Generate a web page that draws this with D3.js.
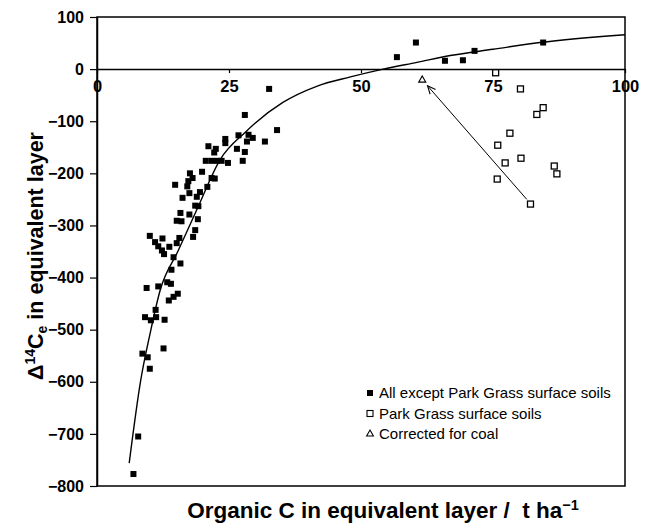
<!DOCTYPE html>
<html>
<head>
<meta charset="utf-8">
<script src="https://cdn.jsdelivr.net/npm/d3@7"></script>
<style>
  body { margin: 0; background: #fff; }
  text { font-family: Arial, "Liberation Sans", sans-serif; }
</style>
</head>
<body>
<div id="root"></div>
<script>
// All except Park Grass surface soils (organic C t/ha, Δ14Ce)
const allExceptC = [32.6, 28.0, 34.1, 26.8, 28.7, 29.5, 28.4, 31.8, 24.3, 24.3, 21.1, 22.5, 22.2, 26.5, 28.0,
  20.6, 21.7, 22.7, 23.6, 24.8, 27.6, 17.6, 18.1, 19.9, 21.7, 22.3, 14.8, 17.3, 17.1, 20.9,
  17.5, 19.5, 16.2, 18.9, 18.6, 19.2, 15.8, 17.5, 15.1, 16.0, 19.1, 18.6, 18.2,
  10.0, 11.0, 12.4, 11.6, 12.3, 12.7, 15.6, 15.1, 13.7, 14.5, 15.8, 14.1,
  9.4, 11.6, 13.3, 14.0, 15.3, 14.5, 13.6, 11.1, 9.1, 10.2, 11.2, 12.8, 8.6, 9.6, 12.6, 10.0, 7.8, 6.9,
  56.8, 60.4, 65.9, 69.3, 71.5, 84.5];
const allExceptD = [-38, -88, -117, -127, -126, -132, -139, -139, -134, -142, -148, -153, -160, -153, -159,
  -176, -176, -176, -176, -180, -176, -200, -209, -197, -209, -210, -222, -215, -225, -226,
  -238, -236, -247, -245, -262, -263, -276, -279, -291, -292, -288, -309, -322,
  -320, -332, -325, -340, -348, -355, -324, -334, -341, -361, -373, -385,
  -420, -417, -409, -412, -431, -437, -444, -462, -476, -482, -476, -481, -546, -553, -536, -575, -705, -777,
  23, 51, 16, 17, 35, 51];

// Park Grass surface soils
const parkGrassC = [75.5, 80.2, 84.5, 83.3, 78.2, 75.9, 80.3, 77.3, 86.6, 87.1, 75.8, 82.1];
const parkGrassD = [-7, -38, -74, -87, -123, -146, -171, -180, -186, -201, -211, -259];

// Corrected for coal
const coalC = [61.6];
const coalD = [-21];

// fitted curve
const fitC = [6.1, 8.3, 10.0, 12.0, 15.3, 18.9, 23.3, 28.2, 35.2, 41.6, 48.0, 54.2, 60.6, 66.9, 75.0, 83.9, 100];
const fitD = [-756, -596, -510, -423, -350, -270, -174, -120, -64, -33, -15, 0, 13, 26, 38, 51, 66];

// arrow from the Park Grass point to the corrected one
const arrowC = [81.4, 62.6];
const arrowD = [-250, -32];

const xTicks = [0, 25, 50, 75, 100];
const yTicks = [100, 0, -100, -200, -300, -400, -500, -600, -700, -800];
const legendItems = ["All except Park Grass surface soils", "Park Grass surface soils", "Corrected for coal"];

const width = 653, height = 524;
const plotLeft = 97, plotRight = 625, plotTop = 17, plotBottom = 486;
const font = "Arial, 'Liberation Sans', sans-serif";

const svg = d3.select("#root").append("svg")
  .attr("width", width)
  .attr("height", height)
  .style("display", "block");

svg.append("rect").attr("width", width).attr("height", height).attr("fill", "#fff");

const x = d3.scaleLinear().domain([0, 100]).range([plotLeft, plotRight]);
const y = d3.scaleLinear().domain([-800, 100]).range([plotBottom, plotTop]);

// frame
svg.append("rect")
  .attr("x", plotLeft).attr("y", plotTop)
  .attr("width", plotRight - plotLeft).attr("height", plotBottom - plotTop)
  .attr("fill", "none").attr("stroke", "#000").attr("stroke-width", 1.5);

// y axis
const yAxis = svg.append("g")
  .attr("transform", `translate(${plotLeft},0)`)
  .call(d3.axisLeft(y).tickValues(yTicks).tickSize(7).tickPadding(6).tickSizeOuter(0));
yAxis.select(".domain").attr("stroke-width", 1.5);
yAxis.selectAll(".tick line").attr("stroke-width", 1.2);
yAxis.selectAll("text").attr("font-size", 16).attr("font-weight", "bold").attr("fill", "#000")
  .style("font-family", font);

// x axis sits on the zero line
const xAxis = svg.append("g")
  .attr("transform", `translate(0,${y(0)})`)
  .call(d3.axisBottom(x).tickValues(xTicks).tickSize(4).tickPadding(7).tickSizeOuter(0));
xAxis.select(".domain").attr("stroke-width", 1.5);
xAxis.selectAll(".tick line").attr("stroke-width", 1.2);
xAxis.selectAll("text").attr("font-size", 16.5).attr("font-weight", "bold").attr("fill", "#000")
  .style("font-family", font);

// fitted curve
const fit = fitC.map((c, i) => ({ c, d: fitD[i] }));
svg.append("path")
  .datum(fit)
  .attr("d", d3.line().x(d => x(d.c)).y(d => y(d.d)).curve(d3.curveMonotoneX))
  .attr("fill", "none")
  .attr("stroke", "#000")
  .attr("stroke-width", 1.4);

// arrow
svg.append("defs").append("marker")
  .attr("id", "head")
  .attr("viewBox", "0 0 10 10")
  .attr("refX", 9).attr("refY", 5)
  .attr("markerWidth", 9).attr("markerHeight", 9)
  .attr("markerUnits", "userSpaceOnUse")
  .attr("orient", "auto")
  .append("path")
  .attr("d", "M0,1 L9,5 L0,9")
  .attr("fill", "none")
  .attr("stroke", "#000")
  .attr("stroke-width", 1.2);

svg.append("line")
  .attr("x1", x(arrowC[0])).attr("y1", y(arrowD[0]))
  .attr("x2", x(arrowC[1])).attr("y2", y(arrowD[1]))
  .attr("stroke", "#000")
  .attr("stroke-width", 1)
  .attr("marker-end", "url(#head)");

// points
const filled = allExceptC.map((c, i) => ({ c, d: allExceptD[i] }));
svg.append("g").selectAll("rect")
  .data(filled)
  .enter()
  .append("rect")
  .attr("x", d => x(d.c) - 3)
  .attr("y", d => y(d.d) - 3)
  .attr("width", 6).attr("height", 6)
  .attr("fill", "#000");

const open = parkGrassC.map((c, i) => ({ c, d: parkGrassD[i] }));
svg.append("g").selectAll("rect")
  .data(open)
  .enter()
  .append("rect")
  .attr("x", d => x(d.c) - 3)
  .attr("y", d => y(d.d) - 3)
  .attr("width", 6).attr("height", 6)
  .attr("fill", "#fff")
  .attr("stroke", "#000")
  .attr("stroke-width", 1.3);

const tri = d3.symbol().type(d3.symbolTriangle).size(22);
svg.append("g").selectAll("path")
  .data(coalC.map((c, i) => ({ c, d: coalD[i] })))
  .enter()
  .append("path")
  .attr("transform", d => `translate(${x(d.c)},${y(d.d)})`)
  .attr("d", tri)
  .attr("fill", "#fff")
  .attr("stroke", "#000")
  .attr("stroke-width", 1.1);

// legend
const legend = svg.append("g").attr("transform", "translate(370,393)");
legendItems.forEach((label, i) => {
  const g = legend.append("g").attr("transform", `translate(0,${i * 20.5})`);
  if (i === 0) {
    g.append("rect").attr("x", -3).attr("y", -3).attr("width", 6).attr("height", 6).attr("fill", "#000");
  } else if (i === 1) {
    g.append("rect").attr("x", -3).attr("y", -3).attr("width", 6).attr("height", 6)
      .attr("fill", "#fff").attr("stroke", "#000").attr("stroke-width", 1.1);
  } else {
    g.append("path").attr("d", d3.symbol().type(d3.symbolTriangle).size(20))
      .attr("fill", "#fff").attr("stroke", "#000").attr("stroke-width", 1.1);
  }
  g.append("text")
    .attr("x", 9).attr("y", 0).attr("dy", "0.35em")
    .attr("font-size", 15)
    .text(label);
});

// axis titles
const xTitle = svg.append("text")
  .attr("x", 383).attr("y", 518)
  .attr("text-anchor", "middle")
  .attr("font-size", 22.5).attr("font-weight", "bold");
xTitle.append("tspan").text("Organic C in equivalent layer /\u00a0\u00a0t ha");
xTitle.append("tspan").attr("dy", -8).attr("font-size", 14.5).text("\u22121");

const yTitle = svg.append("text")
  .attr("transform", "translate(43,256) rotate(-90)")
  .attr("text-anchor", "middle")
  .attr("font-size", 21.5).attr("font-weight", "bold");
yTitle.append("tspan").text("\u0394");
yTitle.append("tspan").attr("dy", -8).attr("font-size", 14).text("14");
yTitle.append("tspan").attr("dy", 8).text("C");
yTitle.append("tspan").attr("dy", 4).attr("font-size", 14).text("e");
yTitle.append("tspan").attr("dy", -4).text(" in equivalent layer");
</script>
</body>
</html>
